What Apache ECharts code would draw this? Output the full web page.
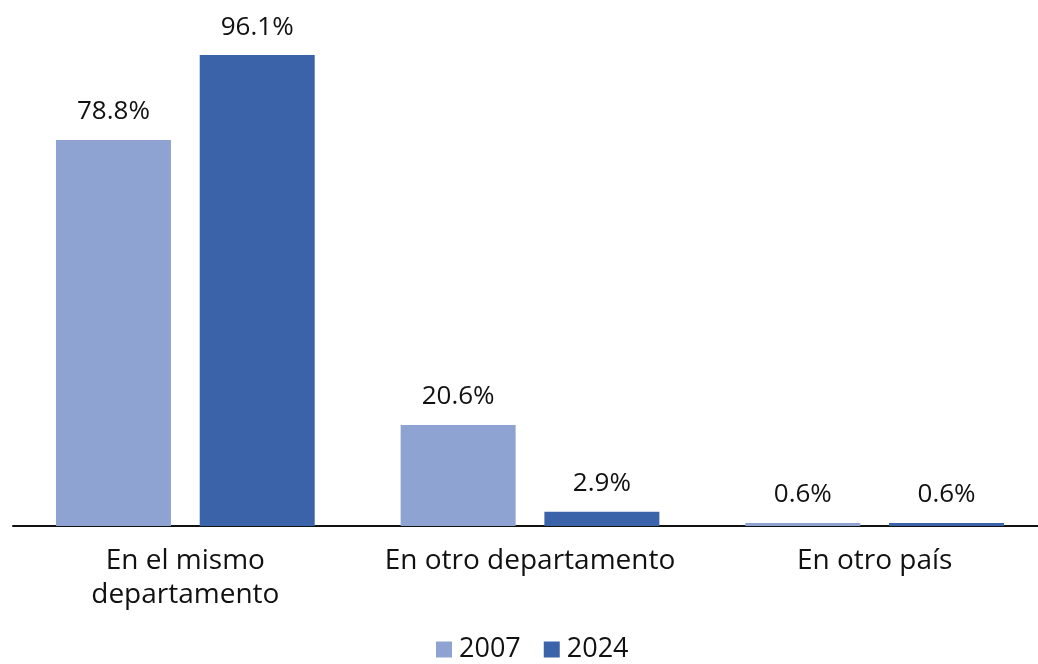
<!DOCTYPE html>
<html><head><meta charset="utf-8">
<script src="https://cdn.jsdelivr.net/npm/echarts@6/dist/echarts.min.js"></script>
<style>html,body{margin:0;padding:0;background:#fff;overflow:hidden}#c{width:1048px;height:664px}</style>
</head><body><div id="c"></div>
<script>
const categories = ['En el mismo\ndepartamento', 'En otro departamento', 'En otro país'];
const seriesNames = ['2007', '2024'];
const values2007 = [78.8, 20.6, 0.6];
const values2024 = [96.1, 2.9, 0.6];
const colors = ['#8FA3D3', '#3B63AA'];
const FONT = '"Open Sans"';

const chart = echarts.init(document.getElementById('c'), null, {renderer: 'canvas'});
const lbl = {show: true, position: 'top', distance: 15, color: '#111', fontSize: 26, fontFamily: FONT,
  formatter: p => p.value.toFixed(1) + '%'};
chart.setOption({
  animation: false,
  backgroundColor: '#fff',
  grid: {left: 13, right: 1, top: 36, height: 490, containLabel: false},
  legend: {top: 636, left: 436, padding: 0, itemWidth: 16, itemHeight: 16, itemGap: 23, icon: 'rect',
    textStyle: {fontSize: 27, fontFamily: FONT, color: '#111', padding: [0, 0, 0, 2]}, data: seriesNames},
  xAxis: {type: 'category', data: categories,
    axisLine: {lineStyle: {color: '#111', width: 2}}, axisTick: {show: false},
    axisLabel: {interval: 0, fontSize: 28, fontFamily: FONT, color: '#111', margin: 18, lineHeight: 34}},
  yAxis: {type: 'value', min: 0, max: 100, show: false, splitLine: {show: false}},
  series: [
    {name: seriesNames[0], type: 'bar', data: values2007, barWidth: 115, barGap: '25%',
      itemStyle: {color: colors[0]}, label: lbl},
    {name: seriesNames[1], type: 'bar', data: values2024, barWidth: 115, barGap: '25%',
      itemStyle: {color: colors[1]}, label: lbl}
  ]
});
</script></body></html>
